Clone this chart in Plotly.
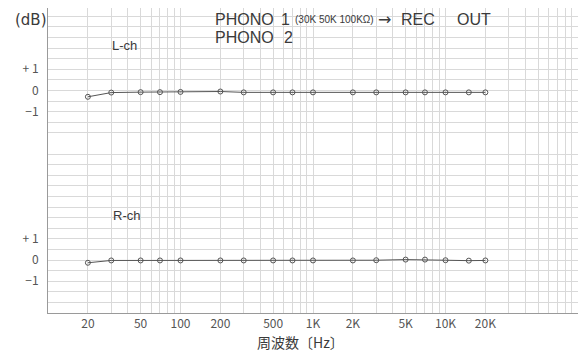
import plotly.graph_objects as go

# Data
freqs = [20, 30, 50, 70, 100, 200, 300, 500, 700, 1000, 2000, 3000, 5000, 7000, 10000, 15000, 20000]
l_ch_db = [-0.3, -0.1, -0.08, -0.08, -0.07, -0.05, -0.09, -0.09, -0.09, -0.09, -0.09, -0.09, -0.09, -0.09, -0.09, -0.09, -0.09]
r_ch_db = [-0.13, -0.02, -0.02, -0.02, -0.02, -0.02, -0.02, -0.02, -0.02, -0.02, -0.02, -0.01, 0.02, 0.02, -0.01, -0.03, -0.02]

x_tick_vals = [20, 50, 100, 200, 500, 1000, 2000, 5000, 10000, 20000]
x_tick_text = ["20", "50", "100", "200", "500", "1K", "2K", "5K", "10K", "20K"]
y_tick_vals = [-1, 0, 1]
y_tick_text = ["\u22121", "0", "+ 1"]

W, H = 579, 359
ML, MR, MT, MB = 48, 1, 8, 46
PW, PH = W - ML - MR, H - MT - MB

def px(x):
    return (x - ML) / PW

def py(y):
    return (H - MB - y) / PH

grid_col = "#d9d9d9"
axis_col = "#9a9a9a"
text_col = "#3a3a3a"
line_col = "#555555"

minor_x = [m * 10 ** e for e in range(1, 5) for m in range(1, 10)] + [100000]

fig = go.Figure()
marker = dict(symbol="circle-open", size=5, color=line_col, line=dict(width=1, color=line_col))
fig.add_trace(go.Scatter(x=freqs, y=r_ch_db, mode="lines+markers", line=dict(color=line_col, width=1),
                         marker=marker, xaxis="x", yaxis="y", showlegend=False, hoverinfo="skip"))
fig.add_trace(go.Scatter(x=freqs, y=l_ch_db, mode="lines+markers", line=dict(color=line_col, width=1),
                         marker=marker, xaxis="x", yaxis="y2", showlegend=False, hoverinfo="skip"))

split = 8.0 / 14.39
fig.update_layout(
    width=W, height=H,
    margin=dict(l=ML, r=MR, t=MT, b=MB),
    paper_bgcolor="white", plot_bgcolor="white",
    font=dict(family="Noto Sans CJK JP, DejaVu Sans, sans-serif", color=text_col),
    xaxis=dict(type="log", range=[1, 5], tickvals=x_tick_vals, ticktext=x_tick_text,
               showgrid=True, gridcolor=grid_col, gridwidth=1,
               minor=dict(tickvals=minor_x, showgrid=True, gridcolor=grid_col, gridwidth=1),
               showline=True, linecolor=axis_col, linewidth=1, ticks="", zeroline=False,
               tickfont=dict(size=12, color="#555555", family="Noto Sans CJK JP, DejaVu Sans"),
               ticklabelstandoff=0),
    xaxis2=dict(type="log", range=[1, 5], overlaying="x", anchor="y2", side="top",
                showline=True, linecolor="#bdbdbd", showticklabels=False, ticks="",
                showgrid=False, zeroline=False),
    yaxis=dict(domain=[0, split], range=[-2.5, 5.5], tickvals=y_tick_vals, ticktext=y_tick_text,
               showgrid=True, gridcolor=grid_col,
               minor=dict(dtick=0.5, tick0=0, showgrid=True, gridcolor=grid_col),
               showline=True, linecolor=axis_col, zeroline=False, ticks="",
               tickfont=dict(size=12, color="#555555"), ticklabelstandoff=6),
    yaxis2=dict(domain=[split, 1], range=[-2.5, 3.89], tickvals=y_tick_vals, ticktext=y_tick_text,
                showgrid=True, gridcolor=grid_col,
                minor=dict(dtick=0.5, tick0=0, showgrid=True, gridcolor=grid_col),
                showline=True, linecolor=axis_col, zeroline=False, ticks="",
                tickfont=dict(size=12, color="#555555"), ticklabelstandoff=6, anchor="x"),
)

def note(text, x, y, size, family, xanchor="left"):
    return dict(text=text, x=px(x), y=py(y), xref="paper", yref="paper", showarrow=False,
                xanchor=xanchor, yanchor="middle",
                font=dict(size=size, color=text_col, family=family))

TF = "Liberation Sans"
ann = [
    note("(dB)", 31, 20, 15, "DejaVu Sans", "center"),
    note("PHONO", 244, 19, 16, TF, "center"),
    note("1", 285, 19, 16, TF, "center"),
    note("(30K 50K 100K\u03a9)", 334, 20, 10, TF, "center"),
    note("\u2192", 384, 19, 16, "DejaVu Sans", "center"),
    note("REC", 418, 19, 16, TF, "center"),
    note("OUT", 474, 19, 16, TF, "center"),
    note("PHONO", 244, 37, 16, TF, "center"),
    note("2", 288, 37, 16, TF, "center"),
    note("L-ch", 110, 45, 13, TF),
    note("R-ch", 111, 215, 13, TF),
    note("\u5468\u6ce2\u6570\u3014Hz\u3015", 300, 342, 14, "Noto Sans CJK JP", "center"),
]
fig.update_layout(annotations=ann)

fig.write_html("out.html", config={"displayModeBar": False, "staticPlot": True},
               post_script="document.body.style.margin='0px';")
